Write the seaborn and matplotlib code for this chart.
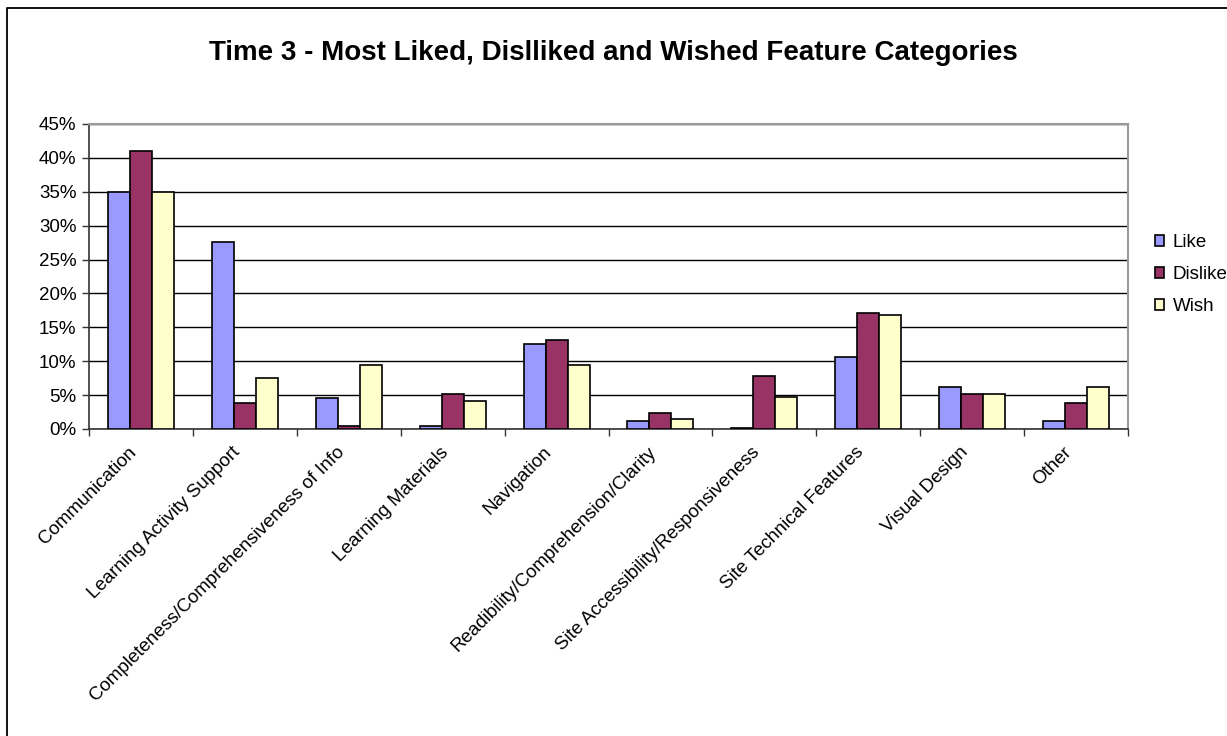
import matplotlib
matplotlib.use("Agg")
import matplotlib.pyplot as plt
import seaborn as sns
import pandas as pd
import numpy as np
from matplotlib.ticker import FuncFormatter, FixedLocator
from matplotlib.lines import Line2D
from matplotlib.transforms import ScaledTranslation

categories = ["Communication", "Learning Activity Support",
              "Completeness/Comprehensiveness of Info", "Learning Materials",
              "Navigation", "Readibility/Comprehension/Clarity",
              "Site Accessibility/Responsiveness", "Site Technical Features",
              "Visual Design", "Other"]
like = [35.0, 27.6, 4.6, 0.5, 12.6, 1.2, 0.2, 10.6, 6.2, 1.2]
dislike = [41.0, 3.8, 0.5, 5.1, 13.2, 2.3, 7.8, 17.1, 5.1, 3.8]
wish = [35.0, 7.5, 9.5, 4.1, 9.5, 1.5, 4.7, 16.8, 5.1, 6.2]
series = ["Like", "Dislike", "Wish"]
colors = ["#9999FF", "#993366", "#FFFFCC"]
yticks = [0, 5, 10, 15, 20, 25, 30, 35, 40, 45]

df = pd.DataFrame({
    "Category": categories * 3,
    "Value": like + dislike + wish,
    "Series": [s for s in series for _ in categories],
})

sns.set_theme(style="white")
plt.rcParams["font.family"] = ["Liberation Sans", "DejaVu Sans"]
plt.rcParams["text.color"] = "black"
plt.rcParams["xtick.color"] = "black"
plt.rcParams["ytick.color"] = "black"

fig = plt.figure(figsize=(12.27, 7.36), dpi=100)
W, H = 1227, 736
ax = fig.add_axes([89 / W, 1 - 429 / H, (1128 - 89) / W, (429 - 124) / H])

sns.barplot(data=df, x="Category", y="Value", hue="Series", order=categories,
            hue_order=series, palette=colors, saturation=1, edgecolor="black",
            linewidth=1.2, width=0.635, gap=0, ax=ax, legend=True, zorder=3)

ax.set_xlim(-0.5, len(categories) - 0.5)
ax.set_ylim(0, 45)
ax.yaxis.set_major_locator(FixedLocator(yticks))
ax.yaxis.set_major_formatter(FuncFormatter(lambda v, p: f"{v:.0f}%"))
ax.grid(axis="y", color="black", linewidth=1.0, zorder=0)
ax.set_axisbelow(True)
ax.set_xlabel("")
ax.set_ylabel("")

for s in ["left", "bottom"]:
    ax.spines[s].set_color("#333333")
    ax.spines[s].set_linewidth(1.2)
for s in ["top", "right"]:
    ax.spines[s].set_color("#999999")
    ax.spines[s].set_linewidth(1.5)
    ax.spines[s].set_visible(True)

ax.tick_params(axis="y", which="major", direction="out", length=5, width=1,
               color="#333333", labelsize=13.5, pad=4, left=True)
ax.set_xticks(np.arange(len(categories)))
ax.set_xticks(np.arange(-0.5, len(categories), 1.0), minor=True)
ax.tick_params(axis="x", which="major", length=0, pad=15, labelsize=13.5)
ax.tick_params(axis="x", which="minor", direction="out", length=5, width=1,
               color="#333333", bottom=True)
ax.set_xticklabels(categories, rotation=45, ha="right", va="center",
                   rotation_mode="anchor")
shift = ScaledTranslation(-0.07, 0, fig.dpi_scale_trans)
for lbl in ax.get_xticklabels():
    lbl.set_transform(lbl.get_transform() + shift)

leg = ax.legend(loc="center left", bbox_to_anchor=((1155 - 89) / 1039, 0.505),
                frameon=False, fontsize=13.5, handlelength=0.5,
                handleheight=0.5, labelspacing=0.8, handletextpad=0.45,
                borderpad=0, borderaxespad=0)
for h in leg.legend_handles:
    h.set_edgecolor("black")
    h.set_linewidth(1.2)

fig.text(0.5, 1 - 53 / H, "Time 3 - Most Liked, Dislliked and Wished Feature Categories",
         ha="center", va="center", fontsize=20, fontweight="bold")

fig.add_artist(Line2D([7 / W, 7 / W, 1.0], [0.0, 1 - 7.5 / H, 1 - 7.5 / H],
                      transform=fig.transFigure, color="black", linewidth=1.3))

fig.savefig("out.png", dpi=100)
